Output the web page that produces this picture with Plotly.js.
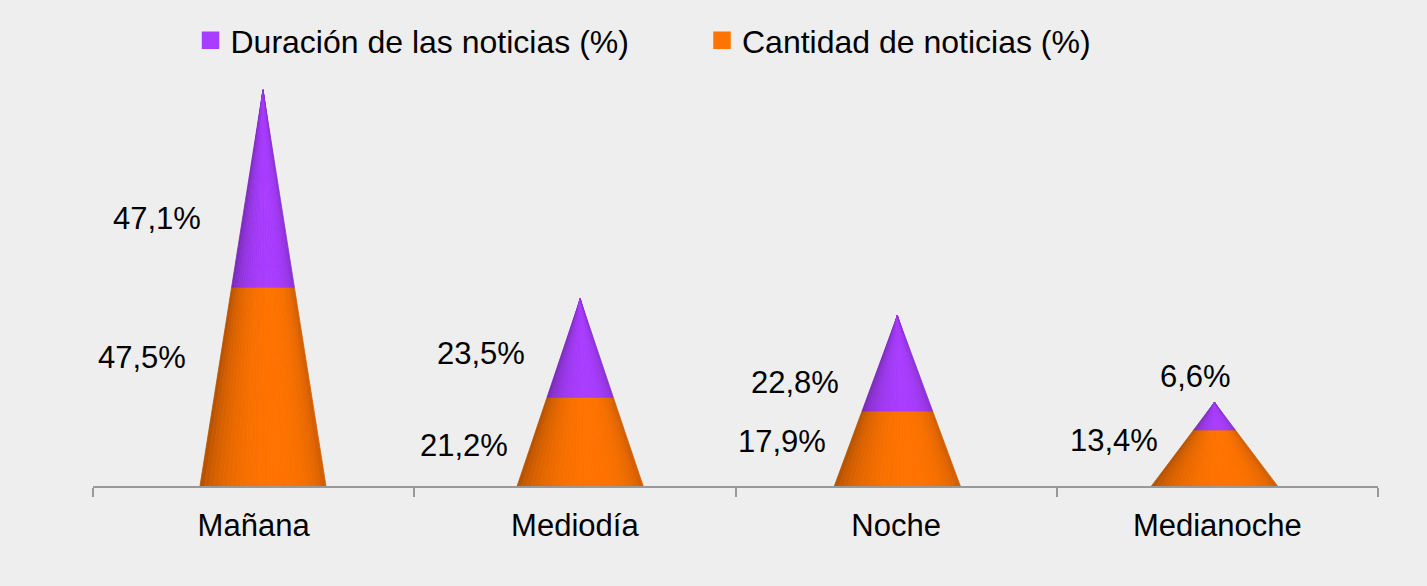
<!DOCTYPE html>
<html><head><meta charset="utf-8">
<script src="https://cdn.plot.ly/plotly-3.0.1.min.js"></script>
<style>html,body{margin:0;padding:0;background:#eeeeee}#chart{width:1427px;height:586px}</style>
</head><body><div id="chart"></div>
<script>
// ---- data ----
const categories = ['Mañana', 'Mediodía', 'Noche', 'Medianoche'];
const cantidad = [47.5, 21.2, 17.9, 13.4];   // Cantidad de noticias (%)
const duracion = [47.1, 23.5, 22.8, 6.6];    // Duración de las noticias (%)
const seriesNames = ['Duración de las noticias (%)', 'Cantidad de noticias (%)'];

// ---- style ----
const FONT = 'Liberation Sans, Arial, sans-serif';
const BG = '#eeeeee';
const ORANGE = [255, 115, 0];
const PURPLE = [168, 60, 255];
const CONE_HALF = 0.1986;   // half base width, in cone-axis units
const SLICES = 28;
// label nudges in px [dx of right edge from cone centre, dy from segment middle]
const nudgeCantidad = [[-75, 29], [-70, -4], [-69, 7], [-55, 17]];
const nudgeDuracion = [[-60, -30], [-53, -5], [-56, -19], [18, 40]];

const fmt = v => v.toFixed(1).replace('.', ',') + '%';
const rgb = (base, b) => 'rgb(' + base.map(c => Math.round(c * b)).join(',') + ')';
function shade(base, u) {
  const th = Math.asin(Math.max(-1, Math.min(1, u)));
  const b = 0.70 + 0.30 * Math.max(0, Math.cos(th - 0.2));
  return rgb(base, b);
}

const totals = categories.map((c, i) => cantidad[i] + duracion[i]);
const segments = [
  {base: ORANGE, lo: i => 0, hi: i => cantidad[i]},
  {base: PURPLE, lo: i => cantidad[i], hi: i => cantidad[i] + duracion[i]}
];

const traces = [];
segments.forEach(seg => {
  for (let k = 0; k < SLICES; k++) {
    const u1 = -1 + 2 * k / SLICES, u2 = -1 + 2 * (k + 1) / SLICES, um = (u1 + u2) / 2;
    const xs = [], ys = [];
    categories.forEach((c, i) => {
      const T = totals[i];
      const r = h => CONE_HALF * (1 - h / T);
      const h0 = seg.lo(i), h1 = seg.hi(i);
      xs.push(i + u1 * r(h0), i + u2 * r(h0), i + u2 * r(h1), i + u1 * r(h1), i + u1 * r(h0), null);
      ys.push(h0, h0, h1, h1, h0, null);
    });
    const col = shade(seg.base, um);
    traces.push({
      type: 'scatter', mode: 'lines', x: xs, y: ys, xaxis: 'x2', yaxis: 'y',
      fill: 'toself', fillcolor: col, line: {color: col, width: 0.8},
      hoverinfo: 'skip', showlegend: false
    });
  }
});

// legend entries
[[seriesNames[0], PURPLE], [seriesNames[1], ORANGE]].forEach(([name, c]) => {
  traces.push({
    type: 'scatter', mode: 'markers', x: [null], y: [null], name: name,
    marker: {symbol: 'square', size: 16, color: rgb(c, 1), line: {color: rgb(c, 1), width: 1.5}},
    hoverinfo: 'skip'
  });
});

const annotations = [];
categories.forEach((c, i) => {
  const mids = [cantidad[i] / 2, cantidad[i] + duracion[i] / 2];
  const vals = [cantidad[i], duracion[i]];
  const nud = [nudgeCantidad[i], nudgeDuracion[i]];
  for (let s = 0; s < 2; s++) {
    annotations.push({
      x: i, y: mids[s], xref: 'x2', yref: 'y', text: fmt(vals[s]), showarrow: false,
      xanchor: 'right', yanchor: 'middle', xshift: nud[s][0], yshift: nud[s][1],
      font: {family: FONT, size: 31, color: '#000000'}
    });
  }
});

const layout = {
  width: 1427, height: 586,
  paper_bgcolor: BG, plot_bgcolor: BG,
  margin: {l: 93, r: 49, t: 86, b: 100},
  font: {family: FONT, size: 31, color: '#000000'},
  showlegend: true,
  legend: {
    orientation: 'h', xref: 'container', yref: 'container', x: 0.1335, y: 0.978,
    xanchor: 'left', yanchor: 'top', entrywidth: 466.5, bgcolor: 'rgba(0,0,0,0)',
    font: {family: FONT, size: 32, color: '#000000'}, traceorder: 'normal'
  },
  xaxis: {
    range: [-0.5, 3.5], tickmode: 'array', tickvals: [0, 1, 2, 3], ticktext: categories,
    ticks: '', showline: true, linecolor: '#999999', linewidth: 2, showgrid: false, zeroline: false,
    ticklabelstandoff: 11,
    minor: {tickmode: 'array', tickvals: [-0.5, 0.5, 1.5, 2.5, 3.5], ticks: 'outside', ticklen: 9,
            tickwidth: 2, tickcolor: '#999999', showgrid: false},
    tickfont: {family: FONT, size: 31, color: '#000000'}, fixedrange: true
  },
  xaxis2: {overlaying: 'x', anchor: 'y', range: [-0.536, 3.5155], visible: false, fixedrange: true},
  yaxis: {range: [0, 95.55], visible: false, fixedrange: true},
  annotations: annotations
};

Plotly.newPlot('chart', traces, layout, {displayModeBar: false, staticPlot: true});
</script></body></html>
